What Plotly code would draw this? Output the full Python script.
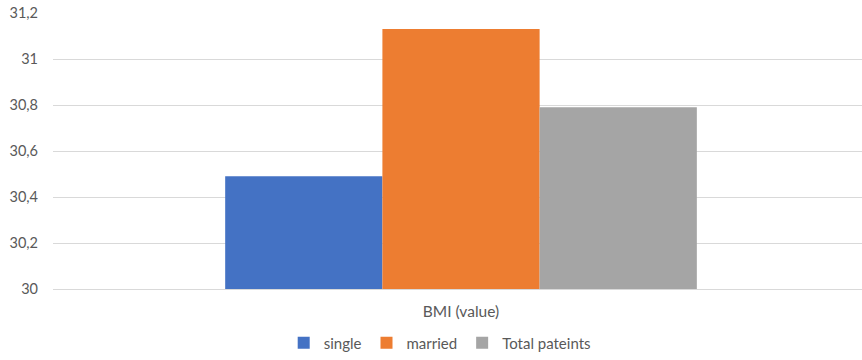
import plotly.graph_objects as go

# BMI by marital status
category = ["BMI (value)"]
series_names = ["single", "married", "Total pateints"]
series_values = [[30.49], [31.13], [30.79]]
series_colors = ["#4472C4", "#ED7D31", "#A5A5A5"]
y_ticks = [30, 30.2, 30.4, 30.6, 30.8, 31, 31.2]

fig = go.Figure()
for name, vals, col in zip(series_names, series_values, series_colors):
    fig.add_trace(go.Bar(
        x=category, y=vals, name=name,
        marker=dict(color=col, line=dict(width=0)),
    ))

font_family = "Lato, 'Liberation Sans', sans-serif"
fig.update_layout(
    width=862, height=360,
    margin=dict(l=53, r=0, t=13, b=71, autoexpand=False),
    paper_bgcolor="white", plot_bgcolor="white",
    barmode="group", bargap=0.422, bargroupgap=0,
    separators=", ",
    font=dict(family=font_family, size=14.5, color="#595959"),
    showlegend=True,
    legend=dict(
        orientation="h", x=0.478, xanchor="center",
        yref="container", y=0.093, yanchor="top",
        font=dict(size=15, color="#595959"),
        itemwidth=30, traceorder="normal",
    ),
    xaxis=dict(
        type="category", range=[-0.5, 0.4914],
        showgrid=False, showline=True, linecolor="#D9D9D9", linewidth=1,
        ticks="", ticklabelstandoff=8, automargin=False,
        tickfont=dict(size=15.5),
    ),
    yaxis=dict(
        range=[30, 31.2], tickvals=y_ticks,
        showgrid=True, gridcolor="#D9D9D9", gridwidth=1,
        zeroline=False, showline=False, ticks="",
        ticklabelstandoff=14, automargin=False,
    ),
)

fig.write_html("out.html")
